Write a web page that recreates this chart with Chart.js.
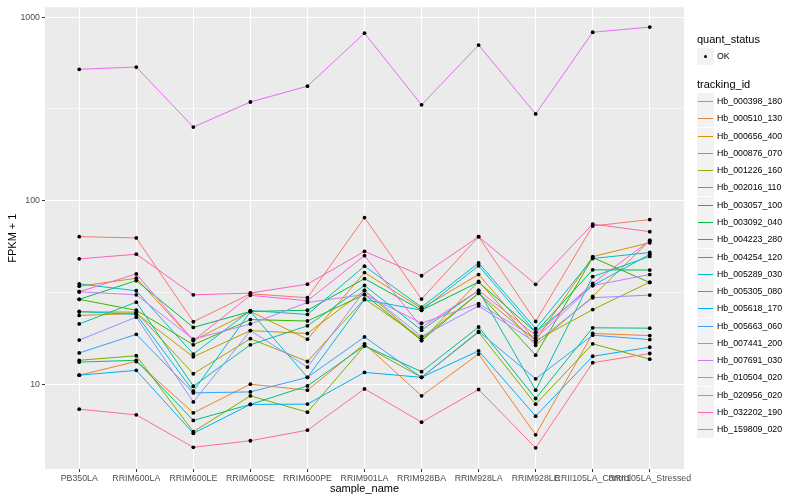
<!DOCTYPE html>
<html>
<head>
<meta charset="utf-8">
<script src="https://cdn.jsdelivr.net/npm/chart.js@4.4.1/dist/chart.umd.min.js"></script>
<style>
  html, body { margin: 0; padding: 0; background: #ffffff; }
  #wrap { position: relative; width: 800px; height: 500px; font-family: "Liberation Sans", Arial, Helvetica, sans-serif; }
  #wrap canvas { position: absolute; left: 0; top: 0; }
  .lg-title { position: absolute; left: 697px; font-size: 11px; color: #000; line-height: 13px; white-space: nowrap; }
  .lg-key { position: absolute; left: 697px; width: 17px; height: 17px; background: #F2F2F2; }
  .lg-line { position: absolute; left: 1px; width: 15px; top: 8px; height: 1px; }
  .lg-dot { position: absolute; left: 7px; top: 7px; width: 3px; height: 3px; border-radius: 50%; background: #000; }
  .lg-text { position: absolute; left: 717px; font-size: 8.8px; color: #000; line-height: 11px; white-space: nowrap; }
</style>
</head>
<body>
<div id="wrap">
  <canvas id="c" width="800" height="500"></canvas>
</div>
<script>
// ---- data ----
const categories = ["PB350LA", "RRIM600LA", "RRIM600LE", "RRIM600SE", "RRIM600PE", "RRIM901LA",
  "RRIM928BA", "RRIM928LA", "RRIM928LE", "RRII105LA_Control", "RRII105LA_Stressed"];

const trackingIds = ["Hb_000398_180", "Hb_000510_130", "Hb_000656_400", "Hb_000876_070", "Hb_001226_160",
  "Hb_002016_110", "Hb_003057_100", "Hb_003092_040", "Hb_004223_280", "Hb_004254_120",
  "Hb_005289_030", "Hb_005305_080", "Hb_005618_170", "Hb_005663_060", "Hb_007441_200",
  "Hb_007691_030", "Hb_010504_020", "Hb_020956_020", "Hb_032202_190", "Hb_159809_020"];

const seriesColors = ["#F8766D", "#EA8331", "#D89000", "#C09B00", "#A3A500", "#7CAE00", "#39B600", "#00BB4E",
  "#00BF7D", "#00C1A3", "#00BFC4", "#00BAE0", "#00B0F6", "#35A2FF", "#9590FF", "#C77CFF",
  "#E76BF3", "#FA62DB", "#FF62BC", "#FF6C91"];

// FPKM + 1 per sample (order of categories)
const hb000398_180 = [63.7, 62.7, 21.9, 31.1, 29.6, 80.9, 29.1, 63.7, 22.0, 72.8, 78.9];
const hb000510_130 = [11.2, 13.3, 6.98, 10.0, 9.28, 16.6, 8.64, 14.6, 5.30, 18.9, 18.4];
const hb000656_400 = [34.2, 37.8, 17.3, 24.9, 17.6, 40.6, 25.9, 39.6, 17.3, 49.6, 59.0];
const hb000876_070 = [23.7, 24.3, 14.1, 19.6, 18.9, 32.4, 17.3, 36.3, 16.3, 30.1, 60.7];
const hb001226_160 = [24.8, 24.7, 11.4, 17.7, 13.3, 29.2, 17.8, 31.3, 17.3, 25.5, 36.0];
const hb002016_110 = [13.5, 14.3, 5.51, 8.64, 7.04, 16.2, 10.9, 19.2, 7.78, 16.6, 13.7];
const hb003057_100 = [29.0, 25.3, 16.4, 22.5, 22.1, 30.8, 17.3, 31.3, 14.4, 49.0, 35.8];
const hb003092_040 = [29.0, 36.7, 20.4, 24.9, 25.3, 37.6, 25.3, 36.0, 19.2, 42.0, 41.9];
const hb004223_280 = [13.2, 13.5, 6.35, 7.76, 9.79, 16.2, 11.7, 20.5, 8.36, 20.3, 20.2];
const hb004254_120 = [21.3, 28.0, 9.75, 16.4, 20.8, 34.5, 19.7, 32.4, 9.28, 38.6, 49.7];
const hb005289_030 = [35.2, 32.3, 14.6, 25.2, 24.0, 44.0, 26.3, 45.8, 20.1, 48.4, 52.2];
const hb005305_080 = [24.9, 24.0, 9.16, 24.9, 10.9, 28.9, 25.3, 44.2, 19.2, 34.5, 51.0];
const hb005618_170 = [11.2, 11.9, 5.40, 7.76, 7.79, 11.6, 10.9, 15.2, 6.70, 14.2, 15.9];
const hb005663_060 = [14.8, 18.7, 8.97, 9.08, 10.9, 18.1, 10.9, 19.4, 10.7, 18.5, 17.5];
const hb007441_200 = [17.4, 23.2, 8.01, 19.6, 12.4, 32.4, 18.2, 26.7, 16.9, 29.6, 30.6];
const hb007691_030 = [31.9, 30.7, 17.6, 21.3, 27.9, 30.8, 21.5, 27.5, 17.8, 34.5, 39.6];
const hb010504_020 = [520, 535, 252, 345, 421, 818, 333, 705, 297, 828, 883];
const hb020956_020 = [31.9, 39.9, 17.3, 30.5, 28.5, 50.2, 20.4, 32.4, 18.5, 35.4, 60.7];
const hb032202_190 = [48.2, 51.1, 30.7, 31.4, 35.1, 53.0, 39.0, 63.7, 35.0, 74.6, 67.8];
const hb159809_020 = [7.31, 6.81, 4.53, 4.92, 5.62, 9.43, 6.21, 9.36, 4.50, 13.1, 14.7];

const yMajorTicks = [10, 100, 1000];
const yMinorTicks = [31.623, 316.23];

const seriesValues = [hb000398_180, hb000510_130, hb000656_400, hb000876_070, hb001226_160,
  hb002016_110, hb003057_100, hb003092_040, hb004223_280, hb004254_120,
  hb005289_030, hb005305_080, hb005618_170, hb005663_060, hb007441_200,
  hb007691_030, hb010504_020, hb020956_020, hb032202_190, hb159809_020];

// ---- chart ----
const datasets = seriesValues.map((vals, i) => ({
  type: 'line',
  label: trackingIds[i],
  data: vals.map((v, j) => ({ x: j, y: v })),
  borderColor: seriesColors[i],
  backgroundColor: seriesColors[i],
  borderWidth: 1,
  pointRadius: 0,
  fill: false,
  tension: 0,
  order: 100 - i
}));
const okPoints = [];
seriesValues.forEach(vals => vals.forEach((v, j) => okPoints.push({ x: j, y: v })));
datasets.push({
  type: 'scatter',
  label: 'OK',
  data: okPoints,
  pointRadius: 1.9,
  pointBackgroundColor: '#000000',
  pointBorderWidth: 0,
  showLine: false,
  order: 0
});

const panelBg = {
  id: 'panelBg',
  beforeDraw(chart) {
    const { ctx, chartArea: a } = chart;
    ctx.save();
    ctx.fillStyle = '#EBEBEB';
    ctx.fillRect(a.left, a.top, a.right - a.left, a.bottom - a.top);
    ctx.restore();
  }
};

const isMajor = v => yMajorTicks.some(m => Math.abs(m - v) < 1e-6);
const FONT = "'Liberation Sans', Arial, Helvetica, sans-serif";

new Chart(document.getElementById('c'), {
  data: { datasets },
  plugins: [panelBg],
  options: {
    responsive: false,
    animation: false,
    devicePixelRatio: 1,
    layout: { padding: { left: 0, right: 116, top: 5, bottom: 0 } },
    plugins: { legend: { display: false }, tooltip: { enabled: false } },
    scales: {
      x: {
        type: 'linear',
        min: -0.6,
        max: categories.length - 1 + 0.6,
        afterBuildTicks: s => { s.ticks = categories.map((c, i) => ({ value: i })); },
        afterFit: s => { s.height = 31; },
        ticks: {
          autoSkip: false, maxRotation: 0, minRotation: 0, padding: 1,
          color: '#4D4D4D', font: { family: FONT, size: 8.8 },
          callback: v => categories[v]
        },
        grid: { color: '#FFFFFF', lineWidth: 1.07, tickColor: '#333333', tickLength: 3, tickWidth: 1 },
        border: { display: false },
        title: { display: true, text: 'sample_name', color: '#000', font: { family: FONT, size: 11 }, padding: { top: 0, bottom: 4 } }
      },
      y: {
        type: 'logarithmic',
        min: Math.pow(10, 0.538),
        max: Math.pow(10, 3.054),
        afterBuildTicks: s => {
          s.ticks = yMajorTicks.concat(yMinorTicks).sort((a, b) => a - b).map(v => ({ value: v, major: isMajor(v) }));
        },
        afterFit: s => { s.width = 45; },
        ticks: {
          padding: 2, color: '#4D4D4D', font: { family: FONT, size: 8.8 },
          callback: v => isMajor(v) ? String(Math.round(v)) : ''
        },
        grid: {
          color: '#FFFFFF',
          lineWidth: c => (c.tick && isMajor(c.tick.value)) ? 1.07 : 0.53,
          tickColor: c => (c.tick && isMajor(c.tick.value)) ? '#333333' : 'rgba(0,0,0,0)',
          tickLength: 3, tickWidth: 1
        },
        border: { display: false },
        title: { display: true, text: 'FPKM + 1', color: '#000', font: { family: FONT, size: 11 }, padding: { top: 6, bottom: 0 } }
      }
    }
  }
});

// ---- legend (HTML text) ----
const wrap = document.getElementById('wrap');
function add(cls, style, text) {
  const d = document.createElement('div');
  d.className = cls;
  Object.assign(d.style, style);
  if (text) d.textContent = text;
  wrap.appendChild(d);
  return d;
}
add('lg-title', { top: '33px' }, 'quant_status');
const okKey = add('lg-key', { top: '48px' });
const dot = document.createElement('div'); dot.className = 'lg-dot'; okKey.appendChild(dot);
add('lg-text', { top: '51px' }, 'OK');
add('lg-title', { top: '78px' }, 'tracking_id');
trackingIds.forEach((id, i) => {
  const yc = Math.round(101 + i * 17.28);
  const k = add('lg-key', { top: (yc - 8) + 'px' });
  const ln = document.createElement('div'); ln.className = 'lg-line'; ln.style.background = seriesColors[i]; k.appendChild(ln);
  add('lg-text', { top: (yc - 5) + 'px' }, id);
});
</script>
</body>
</html>
